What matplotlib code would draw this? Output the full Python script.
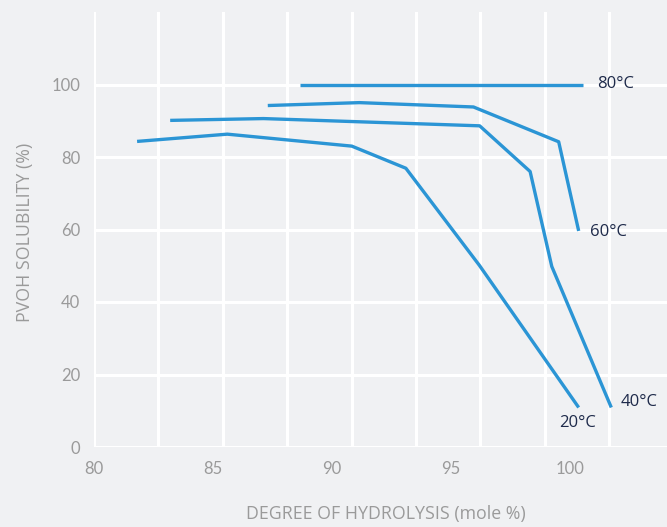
import numpy as np
import matplotlib
matplotlib.use("Agg")
import matplotlib.pyplot as plt

# Daten
x_80 = [88.66, 100.54]
y_80 = [100.0, 100.0]

x_60 = [87.3, 91.15, 95.94, 99.52, 100.36]
y_60 = [94.2, 95.0, 93.8, 84.2, 59.6]

x_40 = [83.2, 87.12, 96.2, 98.32, 99.23, 101.73]
y_40 = [90.1, 90.6, 88.6, 76.0, 49.8, 10.9]

x_20 = [81.81, 85.6, 90.83, 93.1, 96.19, 100.36]
y_20 = [84.3, 86.3, 83.0, 76.9, 50.1, 10.9]

series = [(x_80, y_80, "80°C"), (x_60, y_60, "60°C"),
          (x_40, y_40, "40°C"), (x_20, y_20, "20°C")]

x_ticks = [80, 85, 90, 95, 100]
y_ticks = [0, 20, 40, 60, 80, 100]

bg = "#f0f1f3"
blue = "#2b95d5"
navy = "#1e2a4a"
grey = "#9a9a9a"

fig = plt.figure(figsize=(6.67, 5.27), dpi=100, facecolor=bg)
ax = fig.add_axes([94 / 667, 80 / 527, 1 - 94 / 667, (447 - 12) / 527])
ax.set_facecolor(bg)
ax.set_xlim(80, 104.07)
ax.set_ylim(0, 120)

# dekoratives Gitter (vertikal nicht an Ticks ausgerichtet)
for gx in np.linspace(80, 101.64, 9):
    ax.axvline(gx, color="white", lw=2.2, zorder=1)
for gy in y_ticks:
    ax.axhline(gy, color="white", lw=2.2, zorder=1)

for xs, ys, lab in series:
    ax.plot(xs, ys, color=blue, lw=2.4, solid_capstyle="butt", zorder=3)

txt = dict(color=navy, fontsize=12, family=["Open Sans", "DejaVu Sans"], va="center")
ax.text(101.13, 100, "80°C", **txt)
ax.text(100.85, 59.4, "60°C", **txt)
ax.text(102.14, 12.4, "40°C", **txt)
ax.text(99.52, 6.6, "20°C", **txt)

for s in ax.spines.values():
    s.set_visible(False)
ax.tick_params(length=0, colors=grey, labelsize=12, pad=10)
ax.set_xticks(x_ticks)
ax.set_yticks(y_ticks)
for t in ax.get_xticklabels() + ax.get_yticklabels():
    t.set_family(["Lato", "DejaVu Sans"])

fig.text(386 / 667, 1 - 514 / 527, "DEGREE OF HYDROLYSIS (mole %)", color=grey,
         fontsize=12.8, family=["Open Sans", "DejaVu Sans"], ha="center", va="center")
fig.text(25 / 667, 1 - 232 / 527, "PVOH SOLUBILITY (%)", color=grey, rotation=90,
         fontsize=12.8, family=["Open Sans", "DejaVu Sans"], ha="center", va="center")

fig.savefig("out.png", dpi=100, facecolor=bg)
